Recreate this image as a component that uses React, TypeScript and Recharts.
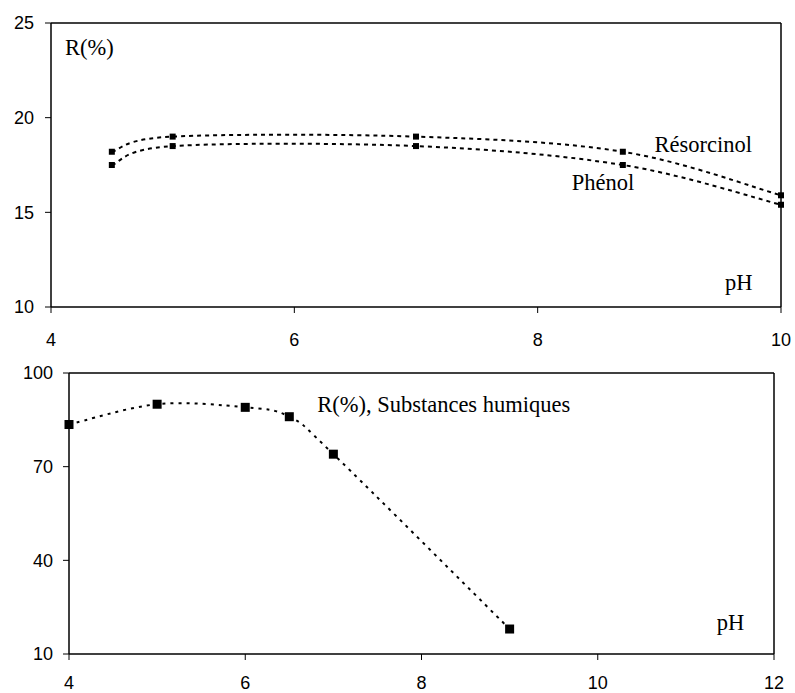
import React from 'react';
import { LineChart, Line, XAxis, YAxis, ReferenceLine, ReferenceDot } from 'recharts';

// ---- Data (top chart) ----
const topPH = [4.5, 5, 7, 8.7, 10];
const resorcinol = [18.2, 19.0, 19.0, 18.2, 15.9];
const phenol = [17.5, 18.5, 18.5, 17.5, 15.4];
const topXTicks = [4, 6, 8, 10];
const topYTicks = [10, 15, 20, 25];

// ---- Data (bottom chart) ----
const bottomPH = [4, 5, 6, 6.5, 7, 9];
const humiques = [83.5, 90, 89, 86, 74, 18];
const bottomXTicks = [4, 6, 8, 10, 12];
const bottomYTicks = [10, 40, 70, 100];

const resData = topPH.map((x, i) => ({ x, y: resorcinol[i] }));
const pheData = topPH.map((x, i) => ({ x, y: phenol[i] }));
const humData = bottomPH.map((x, i) => ({ x, y: humiques[i] }));

// Excel-like smoothed curve (Catmull-Rom bezier)
function smoothCurve(context: any) {
  let pts: number[][] = [];
  return {
    areaStart() {},
    areaEnd() {},
    lineStart() {
      pts = [];
    },
    lineEnd() {
      if (!pts.length) return;
      context.moveTo(pts[0][0], pts[0][1]);
      for (let i = 0; i < pts.length - 1; i++) {
        const p0 = pts[Math.max(i - 1, 0)];
        const p1 = pts[i];
        const p2 = pts[i + 1];
        const p3 = pts[Math.min(i + 2, pts.length - 1)];
        context.bezierCurveTo(
          p1[0] + (p2[0] - p0[0]) / 6,
          p1[1] + (p2[1] - p0[1]) / 6,
          p2[0] - (p3[0] - p1[0]) / 6,
          p2[1] - (p3[1] - p1[1]) / 6,
          p2[0],
          p2[1]
        );
      }
    },
    point(x: number, y: number) {
      pts.push([+x, +y]);
    },
  };
}

const sans = "'Liberation Sans', Arial, sans-serif";
const serif = "'Liberation Serif', 'Times New Roman', serif";

const XTick = (props: any) => {
  const { x, y, payload } = props;
  return (
    <text x={x} y={y} dy="0.71em" textAnchor="middle" fill="#000" style={{ fontSize: 18, fontFamily: sans }}>
      {payload.value}
    </text>
  );
};
const YTick = (props: any) => {
  const { x, y, payload } = props;
  return (
    <text x={x} y={y} dy="0.36em" textAnchor="end" fill="#000" style={{ fontSize: 18, fontFamily: sans }}>
      {payload.value}
    </text>
  );
};

const squareDot = (size: number) => (props: any) => {
  const { cx, cy, index } = props;
  return <rect key={`d${index}`} x={cx - size / 2} y={cy - size / 2} width={size} height={size} fill="#000" />;
};

const textLabel = (value: string) => (props: any) => {
  const vb = props.viewBox || {};
  return (
    <text x={vb.x} y={vb.y} fill="#000" style={{ fontSize: 22.5, fontFamily: serif }}>
      {value}
    </text>
  );
};

const axisLine = { stroke: '#000', strokeWidth: 1.5 };
const tickLine = { stroke: '#000', strokeWidth: 1 };

export default function App() {
  return (
    <div style={{ position: 'absolute', left: 0, top: 0, width: 795, height: 693, background: '#fff' }}>
      <div style={{ position: 'absolute', left: 0, top: 0 }}>
        <LineChart width={795} height={350} margin={{ top: 23, right: 14, bottom: 13, left: 0 }}>
          <XAxis
            type="number"
            dataKey="x"
            domain={[4, 10]}
            ticks={topXTicks}
            height={30}
            tick={<XTick />}
            tickSize={6}
            tickMargin={20}
            axisLine={axisLine}
            tickLine={tickLine}
          />
          <YAxis
            type="number"
            domain={[10, 25]}
            ticks={topYTicks}
            width={51}
            tick={<YTick />}
            tickSize={6}
            tickMargin={11}
            axisLine={axisLine}
            tickLine={tickLine}
          />
          <ReferenceLine y={25} stroke="#000" strokeWidth={1.5} />
          <ReferenceLine x={10} stroke="#000" strokeWidth={1.5} />
          <Line
            data={resData}
            dataKey="y"
            type={smoothCurve as any}
            stroke="#000"
            strokeWidth={2}
            strokeDasharray="4 4"
            dot={squareDot(6)}
            activeDot={false}
            isAnimationActive={false}
          />
          <Line
            data={pheData}
            dataKey="y"
            type={smoothCurve as any}
            stroke="#000"
            strokeWidth={2}
            strokeDasharray="4 4"
            dot={squareDot(6)}
            activeDot={false}
            isAnimationActive={false}
          />
          <ReferenceDot x={4.115} y={23.31} r={0} label={textLabel('R(%)')} />
          <ReferenceDot x={8.96} y={18.2} r={0} label={textLabel('Résorcinol')} />
          <ReferenceDot x={8.28} y={16.18} r={0} label={textLabel('Phénol')} />
          <ReferenceDot x={9.54} y={10.9} r={0} label={textLabel('pH')} />
        </LineChart>
      </div>
      <div style={{ position: 'absolute', left: 0, top: 350 }}>
        <LineChart width={795} height={343} margin={{ top: 23, right: 21, bottom: 9, left: 0 }}>
          <XAxis
            type="number"
            dataKey="x"
            domain={[4, 12]}
            ticks={bottomXTicks}
            height={30}
            tick={<XTick />}
            tickSize={6}
            tickMargin={16}
            axisLine={axisLine}
            tickLine={tickLine}
          />
          <YAxis
            type="number"
            domain={[10, 100]}
            ticks={bottomYTicks}
            width={69}
            tick={<YTick />}
            tickSize={6}
            tickMargin={10}
            axisLine={axisLine}
            tickLine={tickLine}
          />
          <ReferenceLine y={100} stroke="#000" strokeWidth={1.5} />
          <ReferenceLine x={12} stroke="#000" strokeWidth={1.5} />
          <Line
            data={humData}
            dataKey="y"
            type={smoothCurve as any}
            stroke="#000"
            strokeWidth={2}
            strokeDasharray="3 5"
            dot={squareDot(9)}
            activeDot={false}
            isAnimationActive={false}
          />
          <ReferenceDot x={6.816} y={87.6} r={0} label={textLabel('R(%), Substances humiques')} />
          <ReferenceDot x={11.35} y={17.7} r={0} label={textLabel('pH')} />
        </LineChart>
      </div>
    </div>
  );
}
